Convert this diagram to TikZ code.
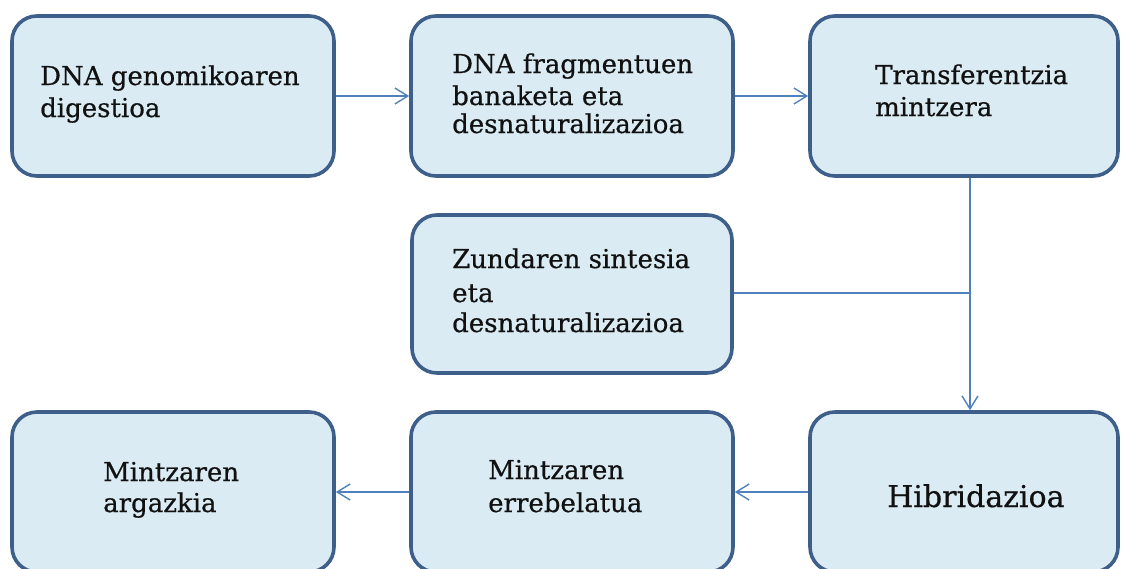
\documentclass[tikz,border=0pt]{standalone}
\usepackage{fontspec}
\setmainfont{DejaVu Serif}
\newfontfamily\lblfont{DejaVu Serif}[FakeBold=0.6]
\usetikzlibrary{arrows.meta}
\definecolor{boxfill}{HTML}{DAEBF4}
\definecolor{boxline}{HTML}{3E5F8A}
\definecolor{conn}{HTML}{4F81BD}
\definecolor{ink}{HTML}{111111}
\tikzset{
  stepbox/.style={draw=boxline, fill=boxfill, line width=3.6pt, rounded corners=25pt,
    minimum width=322pt, minimum height=160pt, inner sep=0pt, shape=rectangle},
  label/.style={anchor=base west, inner sep=0pt, text=ink, font=\lblfont\fontsize{26}{32}\selectfont},
  conline/.style={draw=conn, line width=1.4pt},
  conarrow/.style={conline, -{Straight Barb[length=13pt,width=16pt,line width=1.4pt]}}
}
\newcommand{\lines}[1]{\parbox[t]{300pt}{\raggedright #1}}
\begin{document}
\begin{tikzpicture}[x=1pt,y=-1pt]
\useasboundingbox (0,0) rectangle (1121,568);
\clip (0,0) rectangle (1121,568);
% boxes
\node[stepbox] (b1) at (173,96) {};
\node[stepbox] (b2) at (572,96) {};
\node[stepbox, minimum width=308pt] (b3) at (964,96) {};
\node[stepbox, minimum width=320pt, minimum height=158pt] (m) at (572,294) {};
\node[stepbox] (c1) at (173,492) {};
\node[stepbox] (c2) at (572,492) {};
\node[stepbox, minimum width=308pt] (h) at (964,492) {};
% texts
\node[label] (t1) at (40,85) {\lines{DNA genomikoaren\\digestioa}};
\node[label] (t2) at (452,73) {\lines{DNA fragmentuen\\banaketa eta\\[-4pt]desnaturalizazioa}};
\node[label] (t3) at (875,84) {\lines{Transferentzia\\mintzera}};
\node[label] (t4) at (452,268) {\lines{Zundaren sintesia\\[2pt]eta\\[-2pt]desnaturalizazioa}};
\node[label] (t5) at (103,481) {\lines{Mintzaren\\[-1pt]argazkia}};
\node[label] (t6) at (488,479) {\lines{Mintzaren\\[1pt]errebelatua}};
\node[label, font=\lblfont\fontsize{30}{36}\selectfont] (t7) at (887,507) {Hibridazioa};
% connectors
\coordinate (j) at (970,293);
\draw[conarrow] (b1.east) -- (b2.west);
\draw[conarrow] (b2.east) -- (b3.west);
\draw[conarrow] (b3.south -| j) -- (h.north -| j);
\draw[conline] (m.east |- j) -- (j);
\draw[conarrow] (h.west) -- (c2.east);
\draw[conarrow] (c2.west) -- (c1.east);
\end{tikzpicture}
\end{document}
